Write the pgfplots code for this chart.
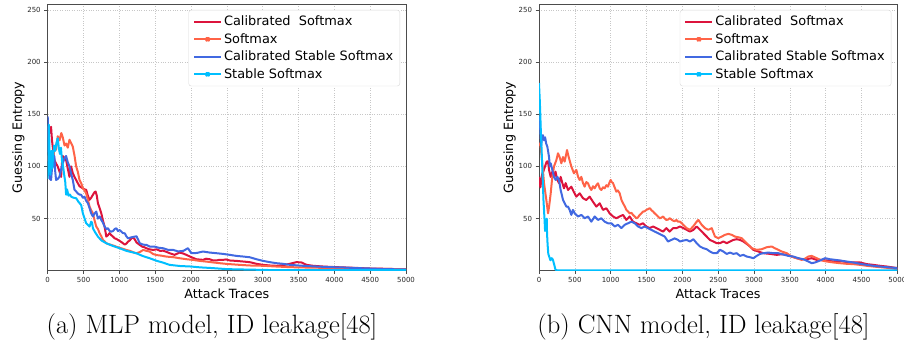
\documentclass[border=0pt]{standalone}
\usepackage{pgfplots}
\pgfplotsset{compat=1.18}
\usepackage{fontspec}
\newfontfamily\dv{DejaVu Sans}
\definecolor{cCal}{HTML}{DC143C}
\definecolor{cSoft}{HTML}{FF6347}
\definecolor{cCalSt}{HTML}{4169E1}
\definecolor{cSt}{HTML}{00BFFF}
\pgfplotsset{
  mystyle/.style={
    scale only axis, width=358.3pt, height=266.4pt,
    xmin=0, xmax=5000, ymin=0, ymax=255.5,
    xtick={0,500,...,5000}, ytick={50,100,150,200,250},
    scaled x ticks=false,
    /pgf/number format/1000 sep={},
    /pgf/number format/assume math mode=true,
    tick label style={font=\dv\fontsize{7}{8}\selectfont, text=black!85},
    label style={font=\dv\fontsize{12.7}{14}\selectfont},
    xlabel={Attack Traces}, ylabel={Guessing Entropy},
    ylabel style={yshift=-4pt},
    xlabel style={yshift=1.5pt},
    grid=major, grid style={dotted, black!22, line width=0.5pt},
    axis line style={black!70, line width=0.8pt},
    tick align=outside, major tick length=3.5pt, tick style={black!70, line width=0.6pt},
    xtick pos=bottom, ytick pos=left,
    legend style={at={(1,1)}, anchor=north east, xshift=-6pt, yshift=-5.7pt,
      font=\dv\fontsize{12.9}{14}\selectfont, draw=black!15, rounded corners=2.5pt,
      fill=white, row sep=2.2pt, inner xsep=4.5pt, inner ysep=4pt},
    legend cell align=left,
    legend image code/.code={\draw[line width=1.8pt] (0pt,0pt) -- (27pt,0pt);},
    every axis plot/.append style={line width=2pt, line join=round},
  },
  mkleg/.style={legend image code/.code={\draw[line width=1.8pt] (0pt,0pt) -- (27pt,0pt); \fill (13.5pt,0pt) +(-1.1pt,-1.1pt) rectangle +(1.1pt,1.1pt);}},
}
\begin{document}
\begin{tikzpicture}
\useasboundingbox (0,0) rectangle (904pt,345pt);
% ---------------- (a) MLP ----------------
\begin{axis}[mystyle, at={(47.7pt,74.3pt)}, anchor=south west]
\addplot[cCal] coordinates {(0,128) (15,138) (30,132) (47,138) (60,125) (70,119) (93,106) (115,103) (140,100) (165,95) (187,90) (200,104) (210,110) (235,108) (257,106) (280,98) (304,90) (327,100) (350,93.6) (374,90) (397,87) (420,84) (444,81) (467,80) (491,79) (514,78) (537,77.6) (560,72) (584,68) (607,70) (631,72.8) (650,75) (668,76) (685,72) (701,64.7) (725,60) (748,55) (771,48) (794,42.3) (818,32.7) (840,34) (864,36) (888,34) (911,32.7) (935,31) (958,30.5) (981,29.5) (1005,28.5) (1028,27.5) (1051,26.3) (1075,25) (1098,26) (1121,27.9) (1145,29) (1168,31) (1190,32) (1215,30) (1240,27) (1260,26) (1285,24.7) (1320,23) (1350,22.5) (1379,21.5) (1420,20.5) (1472,19.9) (1520,20.5) (1570,19) (1612,19.2) (1660,18) (1701,16.8) (1770,15.2) (1841,17.4) (1890,16.5) (1934,15.2) (2004,13) (2074,11) (2120,10.7) (2167,10.4) (2210,11.5) (2260,11) (2300,10) (2353,9.8) (2400,10.5) (2447,10.4) (2490,10.8) (2540,9.8) (2633,9.4) (2726,8.8) (2819,8.2) (2913,6.6) (3006,5.6) (3099,5) (3192,4.7) (3285,5.3) (3379,6.6) (3430,7.5) (3472,8.2) (3542,7.9) (3612,5.6) (3705,4.7) (3845,4) (4031,3.4) (4264,2.8) (4497,2.1) (4730,1.8) (5000,1.2)};
\addlegendentry{Calibrated\ \ Softmax}
\addplot[cSoft, mkleg] coordinates {(0,105) (20,112) (40,100) (55,108) (70,103) (93,119) (117,116) (140,129) (165,125) (190,132) (210,128) (235,120) (257,122) (280,118) (304,125.6) (330,122) (350,119) (375,110) (397,100) (420,95) (444,87) (467,84) (491,79) (514,77) (537,74) (561,68) (584,61.5) (607,58) (631,55) (655,48) (678,42.3) (701,40) (724,36) (748,33) (771,29.5) (795,28) (818,26.3) (850,25.5) (888,24.7) (920,24) (958,23) (1000,22) (1050,21) (1098,19.9) (1150,19) (1200,17.5) (1238,16.7) (1290,18) (1332,19.9) (1380,19) (1425,18.3) (1470,16) (1519,15) (1580,14.5) (1659,13.5) (1750,13) (1846,11.9) (1940,11) (2033,10.3) (2120,9.4) (2220,8.7) (2300,8) (2400,7.2) (2500,6.5) (2600,6) (2680,5.6) (2819,5) (3006,4.7) (3192,4) (3379,3.4) (3565,3.1) (3798,2.8) (4031,2.5) (4311,2.1) (4590,1.8) (5000,1.5)};
\addlegendentry{Softmax}
\addplot[cCalSt] coordinates {(0,148) (10,130) (20,95) (30,88) (47,87) (60,98) (70,100) (93,110) (105,95) (117,87) (140,88) (164,90) (187,97) (210,103) (235,108) (257,110) (280,104) (304,100) (327,93) (350,87) (374,77.6) (397,76) (421,74) (444,73) (467,72.8) (490,70) (514,71) (537,67) (561,64.7) (584,60) (607,55) (631,52) (655,55) (678,56.7) (701,50) (725,52) (748,48.7) (771,46) (794,42.3) (818,40) (841,40.7) (865,38) (888,37.5) (911,38) (935,40) (958,40.7) (981,38) (1005,39) (1028,37.5) (1051,36) (1075,35.9) (1098,33) (1121,31) (1168,32) (1215,32.7) (1240,33) (1285,26.3) (1332,25) (1379,24.7) (1430,23) (1495,23) (1550,22) (1612,21.5) (1680,20) (1752,19.9) (1820,18.5) (1893,19) (1957,21.6) (2004,16.8) (2080,17) (2167,18.4) (2260,17.4) (2353,16.8) (2447,16.1) (2540,15.2) (2633,14.2) (2726,13.6) (2819,12.9) (2913,11) (3006,9.4) (3099,8.2) (3192,7.2) (3285,6.6) (3379,5.6) (3565,4.7) (3751,4) (3938,3.4) (4124,3.1) (4311,2.5) (4497,2.1) (4730,1.5) (5000,1.2)};
\addlegendentry{Calibrated Stable Softmax}
\addplot[cSt, mkleg] coordinates {(0,88) (8,120) (15,140) (22,125) (30,100) (38,92) (45,105) (55,115) (65,98) (75,110) (90,120) (105,115) (120,122) (140,127) (155,118) (170,112) (185,118) (200,105) (215,100) (230,92) (245,85) (257,72.8) (270,78) (290,72) (310,73) (327,71) (360,70) (397,69.5) (430,66) (467,63) (491,55) (515,50) (537,45.5) (560,44) (584,42.3) (607,47) (620,46) (631,40.7) (660,37) (701,32.7) (750,29) (818,26.3) (900,24) (1005,21.5) (1100,19) (1238,16.7) (1330,14) (1425,11.9) (1520,9.5) (1612,7.7) (1700,5.6) (1846,4.5) (2000,4) (2126,3.2) (2300,2.5) (2500,1.5) (2700,1.2) (2913,0.9) (3200,0.5) (5000,0.5)};
\addlegendentry{Stable Softmax}
\end{axis}
% ---------------- (b) CNN ----------------
\begin{axis}[mystyle, at={(539pt,74.3pt)}, anchor=south west]
\addplot[cCal] coordinates {(0,90) (9,84) (20,80) (37,90) (47,93.4) (60,95) (84,100) (107,104.6) (126,105) (140,96.6) (163,90) (186,95) (209,90) (230,95) (256,87) (279,84) (302,90) (326,84) (349,79) (372,84) (405,77.4) (451,80.6) (484,75.8) (521,71) (568,74.2) (614,69.5) (660,67.8) (707,71) (754,66) (800,61.5) (847,64.7) (893,58.3) (940,59.9) (986,55) (1033,52) (1079,50.3) (1126,52) (1172,53.5) (1219,48.7) (1265,52) (1312,47) (1358,45.5) (1405,44) (1451,45.5) (1498,42.4) (1544,40.8) (1591,42.4) (1638,40.8) (1684,39.2) (1731,37.5) (1777,40.8) (1824,37.5) (1870,40.8) (1917,40.8) (1968,42.4) (2014,40.8) (2061,39.2) (2107,37.5) (2154,39.2) (2200,42.4) (2247,39.2) (2293,36) (2340,32.7) (2386,29.5) (2433,28) (2480,26.4) (2526,26.4) (2572,28) (2619,26.4) (2666,28) (2712,29.5) (2759,30.2) (2805,29.5) (2852,28) (2898,25.7) (2945,23.2) (2991,20) (3061,18.4) (3131,16.8) (3224,16.1) (3317,15.2) (3387,15.8) (3457,15.2) (3526,13.6) (3596,12) (3666,11) (3735,11) (3805,12) (3875,10.4) (3945,10.4) (4015,9.8) (4108,8.8) (4201,9.4) (4294,8.2) (4387,7.9) (4480,7.9) (4573,6.3) (4666,5.6) (4759,4.7) (4852,4) (5000,2.5)};
\addlegendentry{Calibrated\ \ Softmax}
\addplot[cSoft, mkleg] coordinates {(0,120) (10,122) (23,119) (42,106) (70,84) (102,68) (126,55) (140,61) (163,74) (181,87) (209,100) (242,106) (265,112.6) (288,109) (312,103) (335,109) (358,104.6) (391,115.7) (414,109) (451,100) (488,93.4) (521,96.6) (545,90) (568,87) (591,90) (614,84) (637,80.6) (660,85) (684,83.8) (707,80) (730,77.4) (754,81) (777,79) (800,82) (823,83.8) (847,79) (870,77.4) (893,80) (916,79) (940,82) (963,80.6) (980,84) (1000,87) (1015,85) (1033,84) (1055,80) (1079,75.8) (1100,77) (1126,74.2) (1150,68) (1172,64.7) (1195,62) (1219,58.3) (1240,57) (1265,55) (1290,55.5) (1312,53.5) (1335,52) (1358,50.3) (1380,51) (1405,53.5) (1430,55) (1451,56.7) (1475,57) (1498,58.3) (1520,59) (1544,60) (1570,58) (1591,56.7) (1615,55) (1638,53.5) (1660,52) (1684,50.3) (1710,51) (1731,52) (1755,50) (1777,48.7) (1800,49) (1824,50.3) (1850,49) (1870,48) (1895,47.5) (1917,48.7) (1940,47) (1968,47) (2014,44) (2060,40.8) (2107,39.2) (2150,42.4) (2200,47) (2224,48.7) (2270,44) (2317,40.8) (2363,39.2) (2410,40.8) (2456,32.7) (2500,31.2) (2549,32.7) (2595,34.4) (2642,35.3) (2690,34.4) (2735,32.7) (2780,32.1) (2828,31.2) (2875,28) (2921,24.8) (2968,21.6) (3038,20) (3107,20.6) (3177,22.5) (3247,23.2) (3290,21.6) (3340,20) (3387,18.4) (3457,16.8) (3526,13.6) (3596,12) (3666,10.4) (3710,11.5) (3759,13.6) (3805,14.2) (3875,12) (3945,9.8) (4015,8.8) (4108,7.9) (4201,7.2) (4294,6.6) (4387,6.3) (4480,5.6) (4573,4.7) (4666,4) (4760,3.4) (4852,2.8) (4968,1.8) (5000,1.6)};
\addlegendentry{Softmax}
\addplot[cCalSt] coordinates {(0,135) (9,147.7) (20,132) (30,119) (42,128.5) (55,130) (70,125) (85,128) (100,122) (116,119) (126,115) (140,109) (151,100) (163,103) (186,96.6) (209,90) (233,87) (256,90) (279,87) (302,77.4) (335,68) (358,64.7) (381,61.5) (405,61.5) (428,58.3) (451,53.5) (474,58.3) (498,55) (545,52) (591,53.5) (637,50.3) (684,52) (730,47) (777,52) (823,48.7) (870,50.3) (916,47) (963,45.5) (1010,45.5) (1056,42.4) (1103,44) (1149,40.8) (1196,44) (1242,45.5) (1289,47) (1335,45.5) (1382,42.4) (1428,40.8) (1475,42.4) (1521,40.8) (1568,39.2) (1614,37.5) (1661,36) (1707,34.4) (1754,32.7) (1800,28) (1847,29.5) (1893,31) (1940,29.5) (1968,28) (2014,28.9) (2061,29.5) (2107,28) (2154,30.2) (2200,26.4) (2247,23.2) (2293,21.6) (2340,20.6) (2386,18.4) (2433,16.8) (2480,16.8) (2526,20) (2572,18.4) (2619,16.1) (2666,17.4) (2712,16.1) (2759,16.8) (2805,14.2) (2852,15.2) (2898,13.6) (2945,12.9) (2991,12) (3038,14.2) (3084,16.1) (3131,16.8) (3200,17.4) (3270,16.8) (3340,16.8) (3410,15.5) (3480,14.2) (3549,13.6) (3619,12) (3689,11) (3759,8.8) (3805,7.2) (3852,7.9) (3922,9.8) (3991,12) (4061,11) (4131,10.4) (4201,9.8) (4294,8.8) (4387,7.9) (4480,6.6) (4573,5.6) (4666,4.7) (4759,4) (4852,3.4) (5000,2.5)};
\addlegendentry{Calibrated Stable Softmax}
\addplot[cSt, mkleg] coordinates {(0,180) (5,172) (10,165) (18,150) (25,135) (35,118) (45,100) (55,82) (62,68) (70,58) (78,48) (85,38) (92,48) (100,44) (108,50) (112,36) (120,25) (130,16) (145,13) (160,10) (175,12) (190,11) (200,9) (215,5) (230,1) (250,0.4) (5000,0.4)};
\addlegendentry{Stable Softmax}
\end{axis}
\node[font=\fontsize{26.5}{30}\selectfont] at (212pt,18pt) {(a) MLP model, ID leakage[48]};
\node[font=\fontsize{26.5}{30}\selectfont] at (703.5pt,18pt) {(b) CNN model, ID leakage[48]};
\end{tikzpicture}
\end{document}
